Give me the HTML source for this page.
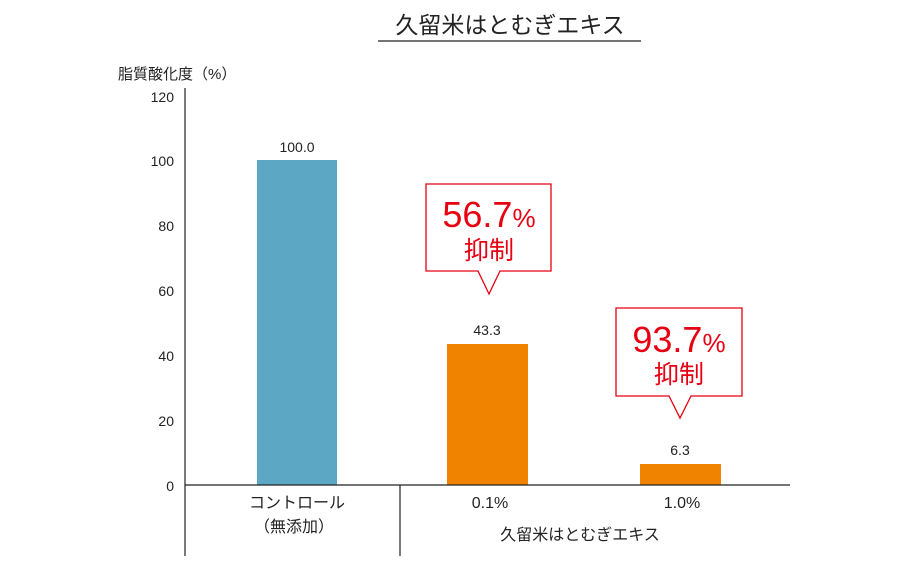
<!DOCTYPE html>
<html><head><meta charset="utf-8"><style>
html,body{margin:0;padding:0;background:#fff;}
svg{display:block;font-family:"Liberation Sans","Noto Sans CJK JP",sans-serif;}
</style></head><body>
<svg width="910" height="567" viewBox="0 0 910 567" xmlns="http://www.w3.org/2000/svg">
<text x="510" y="33" font-size="23" text-anchor="middle" fill="#222">久留米はとむぎエキス</text>
<line x1="378" y1="41" x2="641" y2="41" stroke="#222" stroke-width="1.3"/>
<text x="118" y="79" font-size="15" fill="#222">脂質酸化度（%）</text>
<g font-size="14" fill="#222" text-anchor="end">
<text x="174" y="102">120</text>
<text x="174" y="166">100</text>
<text x="174" y="231">80</text>
<text x="174" y="296">60</text>
<text x="174" y="361">40</text>
<text x="174" y="426">20</text>
<text x="174" y="491">0</text>
</g>
<rect x="257" y="160" width="80" height="325" fill="#5ba7c4"/>
<rect x="447" y="344" width="81" height="141" fill="#f08300"/>
<rect x="640" y="464" width="81" height="21" fill="#f08300"/>
<line x1="185" y1="88" x2="185" y2="556" stroke="#222" stroke-width="1.2"/>
<line x1="185" y1="485" x2="790" y2="485" stroke="#222" stroke-width="1.2"/>
<line x1="400" y1="485" x2="400" y2="556" stroke="#222" stroke-width="1.2"/>
<g font-size="14" fill="#222" text-anchor="middle">
<text x="297" y="152">100.0</text>
<text x="487" y="335">43.3</text>
<text x="680" y="455">6.3</text>
</g>
<path d="M426,184 H551 V271 H500 L489,294 L478,271 H426 Z" fill="#fff" stroke="#e60012" stroke-width="1.3"/>
<path d="M616,308 H742 V396 H691 L680,418 L669,396 H616 Z" fill="#fff" stroke="#e60012" stroke-width="1.3"/>
<g fill="#e60012" text-anchor="middle">
<text x="489" y="227" font-size="36">56.7<tspan font-size="26">%</tspan></text>
<text x="489" y="259" font-size="25">抑制</text>
<text x="679" y="352" font-size="36">93.7<tspan font-size="26">%</tspan></text>
<text x="679" y="383" font-size="25">抑制</text>
</g>
<g font-size="16" fill="#222" text-anchor="middle">
<text x="297" y="508">コントロール</text>
<text x="294" y="532">（無添加）</text>
<text x="490" y="508">0.1%</text>
<text x="682" y="508">1.0%</text>
<text x="580" y="540">久留米はとむぎエキス</text>
</g>
</svg>
</body></html>
